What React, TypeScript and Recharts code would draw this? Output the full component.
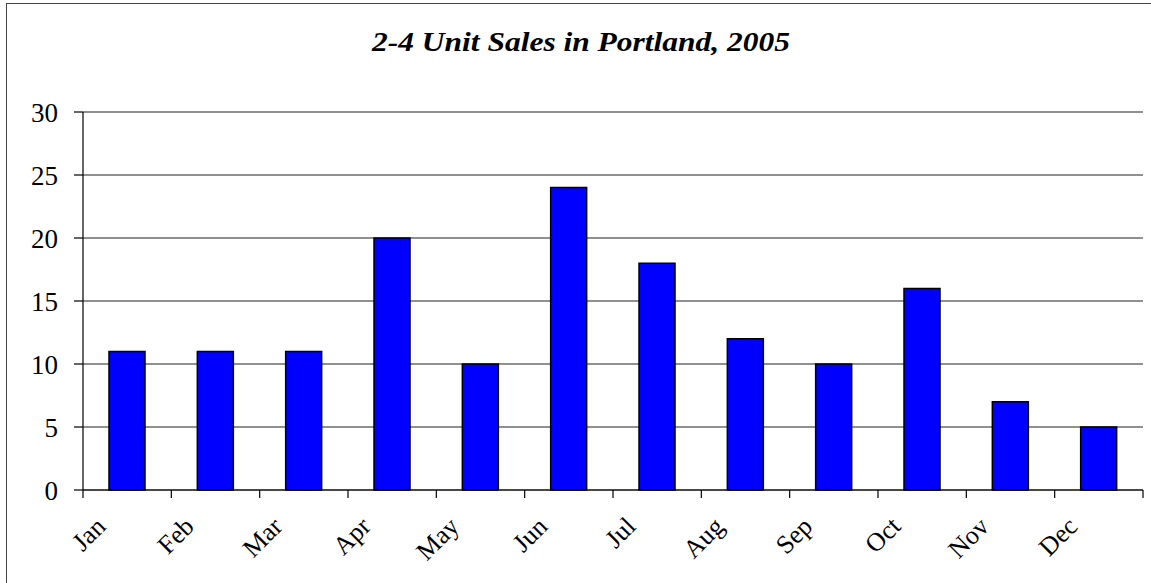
import { BarChart, Bar, XAxis, YAxis, CartesianGrid } from 'recharts';

const months = ['Jan', 'Feb', 'Mar', 'Apr', 'May', 'Jun', 'Jul', 'Aug', 'Sep', 'Oct', 'Nov', 'Dec'];
const sales = [11, 11, 11, 20, 10, 24, 18, 12, 10, 16, 7, 5];
const yTicks = [0, 5, 10, 15, 20, 25, 30];
const title = '2-4 Unit Sales in Portland, 2005';

const W = 1151;
const H = 583;
const LEFT = 83;
const RIGHT = 8;
const TOP = 112;
const BOTTOM = 93;
const BAND = (W - LEFT - RIGHT) / months.length;
const FONT = '"Liberation Serif", "Times New Roman", serif';

const rows = months.map((m, i) => ({ month: m, sales: sales[i] }));

function MonthTick(props: any) {
  const { x, y, payload, index } = props;
  const half = BAND / 2;
  return (
    <g>
      <line x1={x - half} y1={y} x2={x - half} y2={y + 8} stroke="#000" strokeWidth={1.2} />
      {index === months.length - 1 && (
        <line x1={x + half} y1={y} x2={x + half} y2={y + 8} stroke="#000" strokeWidth={1.2} />
      )}
      <text transform={`translate(${x - 20},${y + 38}) rotate(-45)`} textAnchor="end"
        style={{ fontFamily: FONT, fontSize: 26, fill: '#000' }}>
        {payload.value}
      </text>
    </g>
  );
}

export default function App() {
  return (
    <div style={{ position: 'fixed', left: 0, top: 0, width: W, height: H, overflow: 'hidden', background: '#fff' }}>
      <div style={{ position: 'absolute', left: 6, top: 3, width: W + 20, height: H + 20, border: '1.5px solid #444', boxSizing: 'border-box' }} />
      <svg width={W} height={60} style={{ position: 'absolute', left: 0, top: 0 }}>
        <text x={372} y={51} textLength={418} lengthAdjust="spacingAndGlyphs"
          style={{ fontFamily: FONT, fontSize: 27, fontWeight: 'bold', fontStyle: 'italic', fill: '#000' }}>
          {title}
        </text>
      </svg>
      <div style={{ position: 'absolute', left: 0, top: 0 }}>
        <BarChart width={W} height={H} data={rows} margin={{ top: TOP, right: RIGHT, left: 0, bottom: 0 }}>
          <CartesianGrid vertical={false} stroke="#222" strokeWidth={1.2} />
          <XAxis xAxisId="top" orientation="top" dataKey="month" height={0} tick={false} tickLine={false}
            axisLine={{ stroke: '#888', strokeWidth: 1.5 }} />
          <XAxis dataKey="month" height={BOTTOM} tickSize={0} tickMargin={0} tickLine={false}
            axisLine={{ stroke: '#000', strokeWidth: 1.2 }} tick={<MonthTick />} interval={0} />
          <YAxis yAxisId="right" orientation="right" width={0} tick={false} tickLine={false}
            axisLine={{ stroke: '#888', strokeWidth: 1.5 }} domain={[0, 30]} />
          <YAxis width={LEFT} domain={[0, 30]} ticks={yTicks} interval={0} tickSize={9} tickMargin={16}
            axisLine={{ stroke: '#000', strokeWidth: 1.2 }} tickLine={{ stroke: '#000', strokeWidth: 1.2 }}
            tick={{ fontFamily: FONT, fontSize: 27, fill: '#000' }} />
          <Bar dataKey="sales" fill="#0000FF" stroke="#000" strokeWidth={1.5} barSize={36} isAnimationActive={false} />
        </BarChart>
      </div>
    </div>
  );
}
